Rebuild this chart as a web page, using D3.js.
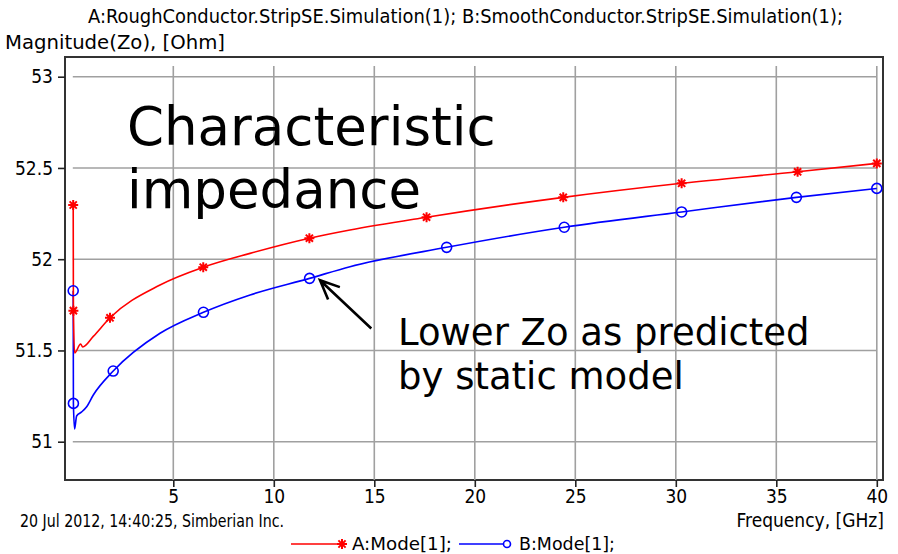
<!DOCTYPE html>
<html><head><meta charset="utf-8">
<script src="https://cdn.jsdelivr.net/npm/d3@7/dist/d3.min.js"></script>
<style>
html,body{margin:0;padding:0;background:#fff;}
svg{display:block;}
.sm{font-family:"Liberation Sans Narrow","DejaVu Sans Condensed","Arial Narrow",sans-serif;fill:#000;}
.big{font-family:"DejaVu Sans",Verdana,sans-serif;fill:#000;}
</style></head>
<body>
<svg id="c" width="898" height="554"></svg>
<script>
// ---- data ----
const titleLine1 = "A:RoughConductor.StripSE.Simulation(1); B:SmoothConductor.StripSE.Simulation(1);";
const titleLine2 = "Magnitude(Zo), [Ohm]";
const xLabel = "Frequency, [GHz]";
const footer = "20 Jul 2012, 14:40:25, Simberian Inc.";
const seriesNames = ["A:Mode[1];", "B:Mode[1];"];
const xTicks = [5, 10, 15, 20, 25, 30, 35, 40];
const yTicks = [51, 51.5, 52, 52.5, 53];
const yTickLabels = ["51", "51.5", "52", "52.5", "53"];

// Series A (rough conductor), frequency in GHz, |Zo| in Ohm
const freqA = [0.02, 0.03, 0.09, 0.39, 0.49, 1.02, 1.85, 4.34, 6.49, 8.82, 11.77, 13.79, 17.6, 24.4, 30.29, 36.06, 40];
const zoA   = [52.297, 51.718, 51.486, 51.535, 51.519, 51.577, 51.679, 51.859, 51.956, 52.032, 52.115, 52.16, 52.23, 52.339, 52.416, 52.479, 52.525];
const markIdxA = [0, 1, 6, 8, 10, 12, 13, 14, 15, 16];

// Series B (smooth conductor)
const freqB = [0.02, 0.03, 0.09, 0.19, 0.44, 0.69, 1.02, 2.01, 4.34, 6.5, 8.82, 11.78, 13.79, 18.6, 24.45, 30.29, 36.0, 40];
const zoB   = [51.827, 51.21, 51.07, 51.141, 51.163, 51.192, 51.256, 51.387, 51.594, 51.709, 51.804, 51.895, 51.959, 52.065, 52.175, 52.259, 52.339, 52.388];
const markIdxB = [0, 1, 7, 9, 11, 13, 14, 15, 16, 17];

const annoTitle = ["Characteristic", "impedance"];
const annoNote = ["Lower Zo as predicted", "by static model"];
// arrow: tip and tail in data units
const arrowTip = [12.3, 51.885];
const arrowTail = [14.85, 51.62];

// ---- drawing ----
const svg = d3.select("#c");
const frame = {l: 65, r: 883, t: 57, b: 480};
const x = d3.scaleLinear().domain([0, 40]).range([72.8, 876.8]);
const y = d3.scaleLinear().domain([51, 53]).range([441.7, 76.7]);
const gridTop = 66;

svg.append("rect").attr("width", 898).attr("height", 554).attr("fill", "#fff");

// titles
svg.append("text").attr("class", "sm").attr("x", 88).attr("y", 23)
  .attr("font-size", 19).attr("textLength", 755).attr("lengthAdjust", "spacingAndGlyphs").text(titleLine1);
svg.append("text").attr("class", "sm").attr("x", 5).attr("y", 49)
  .attr("font-size", 19).attr("textLength", 220).attr("lengthAdjust", "spacingAndGlyphs").text(titleLine2);

// frame
svg.append("rect").attr("x", frame.l).attr("y", frame.t)
  .attr("width", frame.r - frame.l).attr("height", frame.b - frame.t)
  .attr("fill", "#fff").attr("stroke", "#333").attr("stroke-width", 2);

// grid
const grid = svg.append("g").attr("stroke", "#a0a0a0").attr("stroke-width", 1.6);
grid.selectAll("line.h").data(yTicks).join("line").attr("class", "h")
  .attr("x1", x(0)).attr("x2", x(40)).attr("y1", d => y(d)).attr("y2", d => y(d));
grid.selectAll("line.v").data(xTicks).join("line").attr("class", "v")
  .attr("x1", d => x(d)).attr("x2", d => x(d)).attr("y1", gridTop).attr("y2", frame.b);

// axes
const yAxis = svg.append("g").attr("transform", `translate(${frame.l},0)`)
  .call(d3.axisLeft(y).tickValues(yTicks).tickFormat((d, i) => yTickLabels[i]).tickSize(7).tickPadding(5));
const xAxis = svg.append("g").attr("transform", `translate(0,${frame.b})`)
  .call(d3.axisBottom(x).tickValues(xTicks).tickFormat(d3.format("d")).tickSize(7).tickPadding(3));
[yAxis, xAxis].forEach(a => {
  a.select(".domain").remove();
  a.selectAll(".tick line").attr("stroke", "#222").attr("stroke-width", 1.6);
  a.selectAll(".tick text").attr("class", "sm").attr("font-size", 19).attr("fill", "#000")
    .style("font-family", "'Liberation Sans Narrow','DejaVu Sans Condensed','Arial Narrow',sans-serif");
});

// annotation texts
const t1 = svg.append("text").attr("class", "big").attr("font-size", 53);
t1.append("tspan").attr("x", 127).attr("y", 145).text(annoTitle[0]);
t1.append("tspan").attr("x", 127).attr("y", 208).text(annoTitle[1]);
const t2 = svg.append("text").attr("class", "big").attr("font-size", 37);
t2.append("tspan").attr("x", 398).attr("y", 345).text(annoNote[0]);
t2.append("tspan").attr("x", 398).attr("y", 389).text(annoNote[1]);

// lines
const line = d3.line().curve(d3.curveMonotoneX);
const ptsA = freqA.map((f, i) => [x(f), y(zoA[i])]);
const ptsB = freqB.map((f, i) => [x(f), y(zoB[i])]);
svg.append("path").attr("d", line(ptsB)).attr("fill", "none").attr("stroke", "#0000ff").attr("stroke-width", 1.6);
svg.append("path").attr("d", line(ptsA)).attr("fill", "none").attr("stroke", "#ff0000").attr("stroke-width", 1.6);

function star(g, cx, cy, color) {
  const s = 5, d = 3.6;
  g.append("path").attr("d",
    `M${cx - s},${cy}L${cx + s},${cy}M${cx},${cy - s}L${cx},${cy + s}M${cx - d},${cy - d}L${cx + d},${cy + d}M${cx - d},${cy + d}L${cx + d},${cy - d}`)
    .attr("stroke", color).attr("stroke-width", 2).attr("fill", "none");
}
function circ(g, cx, cy, color) {
  g.append("circle").attr("cx", cx).attr("cy", cy).attr("r", 5)
    .attr("fill", "none").attr("stroke", color).attr("stroke-width", 1.6);
}
const mk = svg.append("g");
markIdxB.forEach(i => circ(mk, ptsB[i][0], ptsB[i][1], "#0000ff"));
markIdxA.forEach(i => star(mk, ptsA[i][0], ptsA[i][1], "#ff0000"));

// arrow
const tip = [x(arrowTip[0]), y(arrowTip[1])], tail = [x(arrowTail[0]), y(arrowTail[1])];
const ang = Math.atan2(tail[1] - tip[1], tail[0] - tip[0]);
const hl = 21, ha = 0.42;
const h1 = [tip[0] + hl * Math.cos(ang - ha), tip[1] + hl * Math.sin(ang - ha)];
const h2 = [tip[0] + hl * Math.cos(ang + ha), tip[1] + hl * Math.sin(ang + ha)];
svg.append("path").attr("d", `M${tail}L${tip}M${h1}L${tip}L${h2}`)
  .attr("fill", "none").attr("stroke", "#000").attr("stroke-width", 2.6).attr("stroke-linejoin", "miter");

// footer texts
svg.append("text").attr("class", "sm").attr("x", 20).attr("y", 527).attr("font-size", 18)
  .attr("textLength", 264).attr("lengthAdjust", "spacingAndGlyphs").text(footer);
svg.append("text").attr("class", "sm").attr("x", 884).attr("y", 527).attr("font-size", 19)
  .attr("text-anchor", "end").text(xLabel);

// legend
const lg = svg.append("g");
const ly = 544;
lg.append("line").attr("x1", 291).attr("x2", 342).attr("y1", ly).attr("y2", ly).attr("stroke", "#ff0000").attr("stroke-width", 1.6);
star(lg, 342, ly, "#ff0000");
lg.append("text").attr("class", "sm").attr("x", 352).attr("y", ly + 6).attr("font-size", 18)
  .attr("textLength", 100).attr("lengthAdjust", "spacingAndGlyphs").text(seriesNames[0]);
lg.append("line").attr("x1", 459).attr("x2", 504).attr("y1", ly).attr("y2", ly).attr("stroke", "#0000ff").attr("stroke-width", 1.6);
lg.append("circle").attr("cx", 507).attr("cy", ly).attr("r", 3.5).attr("fill", "none").attr("stroke", "#0000ff").attr("stroke-width", 1.6);
lg.append("text").attr("class", "sm").attr("x", 519).attr("y", ly + 6).attr("font-size", 18)
  .attr("textLength", 96).attr("lengthAdjust", "spacingAndGlyphs").text(seriesNames[1]);
</script>
</body></html>
